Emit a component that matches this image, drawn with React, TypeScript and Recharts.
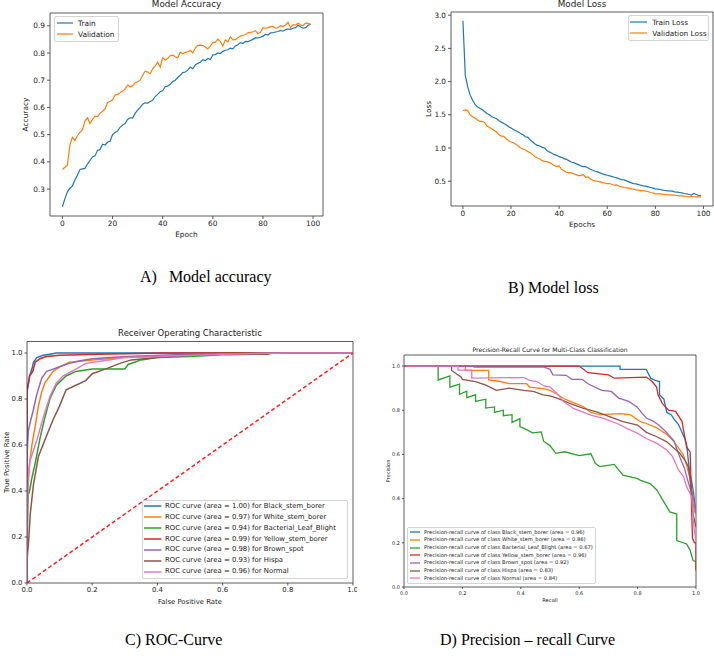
import React from "react";
import { LineChart, Line, XAxis, YAxis, ReferenceLine, Legend } from "recharts";

const MPL = "'DejaVu Sans', Verdana, sans-serif";
const SERIF = "'Liberation Serif', 'Times New Roman', serif";
const INK = "#222";
const SPINE = "#333";

// training history, one value per epoch (0..99)
const trainAcc = [
  0.235, 0.265, 0.29, 0.303, 0.312, 0.333, 0.352, 0.372, 0.374, 0.376,
  0.392, 0.405, 0.418, 0.422, 0.443, 0.445, 0.465, 0.462, 0.472, 0.476,
  0.5, 0.508, 0.513, 0.527, 0.535, 0.541, 0.556, 0.562, 0.561, 0.578,
  0.59, 0.6, 0.612, 0.617, 0.616, 0.622, 0.626, 0.64, 0.648, 0.658,
  0.662, 0.676, 0.678, 0.685, 0.695, 0.7, 0.71, 0.718, 0.728, 0.73,
  0.737, 0.748, 0.742, 0.756, 0.762, 0.766, 0.775, 0.772, 0.78, 0.776,
  0.793, 0.794, 0.8, 0.798, 0.806, 0.81, 0.812, 0.818, 0.815, 0.826,
  0.83, 0.838, 0.835, 0.843, 0.842, 0.846, 0.85, 0.856, 0.855, 0.858,
  0.862, 0.868, 0.866, 0.874, 0.875, 0.877, 0.879, 0.883, 0.88, 0.886,
  0.888, 0.887, 0.891, 0.893, 0.902, 0.896, 0.891, 0.893, 0.902, 0.906,
];
const valAcc = [
  0.372, 0.38, 0.388, 0.462, 0.49, 0.478, 0.497, 0.508, 0.518, 0.55,
  0.562, 0.54, 0.556, 0.568, 0.566, 0.578, 0.586, 0.594, 0.618, 0.622,
  0.628, 0.646, 0.648, 0.654, 0.66, 0.668, 0.682, 0.675, 0.68, 0.69,
  0.694, 0.7, 0.718, 0.733, 0.73, 0.724, 0.742, 0.752, 0.766, 0.748,
  0.783, 0.774, 0.78, 0.79, 0.792, 0.786, 0.782, 0.803, 0.797, 0.802,
  0.804, 0.81, 0.8, 0.818, 0.828, 0.829, 0.828, 0.822, 0.815, 0.826,
  0.838, 0.84, 0.851, 0.842, 0.826, 0.848, 0.841, 0.859, 0.848, 0.849,
  0.856, 0.862, 0.865, 0.868, 0.874, 0.876, 0.878, 0.882, 0.871, 0.876,
  0.893, 0.891, 0.893, 0.897, 0.898, 0.891, 0.893, 0.9, 0.897, 0.903,
  0.913, 0.893, 0.904, 0.902, 0.909, 0.903, 0.9, 0.91, 0.909, 0.905,
];
const trainLoss = [
  2.915, 2.09, 1.92, 1.8, 1.72, 1.66, 1.62, 1.6, 1.58, 1.55,
  1.52, 1.5, 1.47, 1.455, 1.44, 1.41, 1.39, 1.37, 1.35, 1.32,
  1.3, 1.28, 1.26, 1.24, 1.22, 1.2, 1.17, 1.16, 1.12, 1.09,
  1.06, 1.04, 1.03, 1.01, 1.0, 0.96, 0.94, 0.92, 0.9, 0.89,
  0.87, 0.86, 0.84, 0.83, 0.81, 0.79, 0.78, 0.765, 0.75, 0.73,
  0.72, 0.72, 0.7, 0.68, 0.665, 0.65, 0.64, 0.625, 0.61, 0.6,
  0.59, 0.58, 0.57, 0.56, 0.55, 0.535, 0.525, 0.52, 0.505, 0.49,
  0.475, 0.465, 0.46, 0.45, 0.44, 0.43, 0.425, 0.415, 0.405, 0.395,
  0.385, 0.38, 0.375, 0.365, 0.36, 0.355, 0.355, 0.35, 0.34, 0.335,
  0.33, 0.325, 0.315, 0.31, 0.3, 0.29, 0.315, 0.3, 0.285, 0.285,
];
const valLoss = [
  1.565, 1.575, 1.565, 1.5, 1.47, 1.45, 1.425, 1.4, 1.4, 1.385,
  1.33, 1.31, 1.29, 1.265, 1.24, 1.2, 1.18, 1.175, 1.14, 1.11,
  1.09, 1.08, 1.055, 1.03, 1.0, 0.985, 0.97, 0.945, 0.93, 0.9,
  0.87, 0.85, 0.835, 0.81, 0.8, 0.795, 0.78, 0.76, 0.735, 0.725,
  0.73, 0.68, 0.66, 0.635, 0.63, 0.625, 0.615, 0.6, 0.585, 0.585,
  0.6, 0.56, 0.565, 0.535, 0.515, 0.505, 0.5, 0.49, 0.48, 0.47,
  0.465, 0.465, 0.45, 0.44, 0.445, 0.425, 0.415, 0.405, 0.4, 0.395,
  0.385, 0.38, 0.37, 0.365, 0.355, 0.36, 0.35, 0.345, 0.33, 0.325,
  0.31, 0.31, 0.31, 0.305, 0.3, 0.295, 0.295, 0.29, 0.29, 0.285,
  0.28, 0.28, 0.275, 0.27, 0.265, 0.27, 0.27, 0.265, 0.265, 0.26,
];

const epochTicks = [0, 20, 40, 60, 80, 100];
const accTicks = [0.3, 0.4, 0.5, 0.6, 0.7, 0.8, 0.9];
const lossTicks = [0.5, 1.0, 1.5, 2.0, 2.5, 3.0];
const unitTicks = [0, 0.2, 0.4, 0.6, 0.8, 1.0];

// per-class evaluation
const classNames = [
  "Black_stem_borer", "White_stem_borer", "Bacterial_Leaf_Blight",
  "Yellow_stem_borer", "Brown_spot", "Hispa", "Normal",
];
const classColors = ["#1f77b4", "#ff7f0e", "#2ca02c", "#d62728", "#9467bd", "#8c564b", "#e377c2"];
const rocAuc = [1.0, 0.97, 0.94, 0.99, 0.98, 0.93, 0.96];
const prAuc = [0.96, 0.86, 0.67, 0.96, 0.92, 0.83, 0.84];

// ROC points: [fpr, tpr]
const rocBlack = [[0, 0], [0, 0.83], [0.005, 0.87], [0.008, 0.9], [0.015, 0.93], [0.02, 0.96], [0.03, 0.98], [0.05, 0.99], [0.07, 0.995], [0.09, 1], [1, 1]];
const rocWhite = [[0, 0], [0, 0.2], [0.003, 0.42], [0.008, 0.52], [0.015, 0.6], [0.025, 0.68], [0.035, 0.77], [0.045, 0.83], [0.055, 0.87], [0.065, 0.89], [0.08, 0.92], [0.1, 0.94], [0.13, 0.96], [0.2, 0.97], [0.3, 0.98], [0.4, 0.985], [0.6, 0.995], [0.75, 1], [1, 1]];
const rocBacterial = [[0, 0], [0, 0.12], [0.003, 0.38], [0.008, 0.4], [0.014, 0.45], [0.025, 0.52], [0.04, 0.63], [0.055, 0.72], [0.07, 0.8], [0.09, 0.86], [0.12, 0.9], [0.15, 0.92], [0.2, 0.93], [0.3, 0.93], [0.31, 0.95], [0.33, 0.96], [0.35, 0.97], [0.4, 0.98], [0.5, 0.985], [0.57, 0.99], [0.61, 1], [1, 1]];
const rocYellow = [[0, 0], [0, 0.84], [0.008, 0.9], [0.018, 0.92], [0.025, 0.96], [0.04, 0.975], [0.06, 0.985], [0.1, 0.99], [0.22, 0.995], [0.42, 1], [1, 1]];
const rocBrownSpot = [[0, 0], [0, 0.55], [0.004, 0.66], [0.01, 0.7], [0.019, 0.75], [0.03, 0.82], [0.045, 0.89], [0.06, 0.92], [0.08, 0.93], [0.1, 0.94], [0.13, 0.955], [0.16, 0.965], [0.2, 0.975], [0.3, 0.985], [0.5, 0.995], [0.83, 1], [1, 1]];
const rocHispa = [[0, 0], [0, 0.1], [0.005, 0.18], [0.01, 0.3], [0.02, 0.43], [0.035, 0.55], [0.06, 0.64], [0.08, 0.71], [0.1, 0.77], [0.12, 0.84], [0.15, 0.86], [0.18, 0.88], [0.2, 0.91], [0.24, 0.93], [0.285, 0.955], [0.32, 0.97], [0.4, 0.98], [0.5, 0.99], [0.74, 0.995], [0.75, 1], [1, 1]];
const rocNormal = [[0, 0], [0, 0.3], [0.005, 0.48], [0.009, 0.53], [0.03, 0.62], [0.05, 0.72], [0.07, 0.81], [0.09, 0.87], [0.11, 0.9], [0.15, 0.93], [0.18, 0.955], [0.25, 0.97], [0.3, 0.98], [0.4, 0.985], [0.6, 0.995], [0.8, 1], [1, 1]];
const rocChance = [[0, 0], [1, 1]];

// precision-recall points: [recall, precision]
const prBlack = [[0, 1], [0.74, 1], [0.74, 0.985], [0.83, 0.985], [0.835, 0.97], [0.845, 0.945], [0.86, 0.935], [0.875, 0.93], [0.875, 0.87], [0.89, 0.85], [0.895, 0.82], [0.9, 0.79], [0.915, 0.78], [0.925, 0.76], [0.94, 0.735], [0.952, 0.7], [0.962, 0.67], [0.97, 0.62], [0.975, 0.555], [0.98, 0.51], [0.985, 0.48], [0.99, 0.44], [0.995, 0.39], [1, 0.33]];
const prWhite = [[0, 1], [0.21, 1], [0.21, 0.98], [0.29, 0.98], [0.29, 0.937], [0.33, 0.93], [0.36, 0.92], [0.42, 0.92], [0.43, 0.905], [0.48, 0.897], [0.5, 0.89], [0.52, 0.876], [0.547, 0.853], [0.57, 0.84], [0.615, 0.816], [0.64, 0.79], [0.67, 0.78], [0.74, 0.785], [0.775, 0.78], [0.81, 0.748], [0.83, 0.74], [0.866, 0.72], [0.9, 0.69], [0.92, 0.665], [0.94, 0.63], [0.957, 0.597], [0.968, 0.55], [0.978, 0.5], [0.985, 0.45], [0.99, 0.38], [0.995, 0.34], [1, 0.33]];
const prBacterial = [[0, 1], [0.117, 1], [0.117, 0.937], [0.157, 0.955], [0.157, 0.905], [0.19, 0.918], [0.19, 0.872], [0.215, 0.886], [0.215, 0.857], [0.245, 0.87], [0.245, 0.84], [0.28, 0.85], [0.28, 0.81], [0.31, 0.815], [0.31, 0.79], [0.34, 0.8], [0.34, 0.775], [0.37, 0.78], [0.37, 0.745], [0.397, 0.762], [0.397, 0.726], [0.42, 0.712], [0.44, 0.698], [0.47, 0.702], [0.478, 0.66], [0.5, 0.64], [0.52, 0.605], [0.55, 0.612], [0.6, 0.595], [0.64, 0.603], [0.655, 0.56], [0.67, 0.545], [0.72, 0.555], [0.75, 0.506], [0.8, 0.49], [0.81, 0.483], [0.843, 0.468], [0.865, 0.44], [0.888, 0.39], [0.91, 0.34], [0.934, 0.33], [0.934, 0.21], [0.968, 0.195], [0.98, 0.166], [0.99, 0.12], [1, 0.115], [1, 0.075]];
const prYellow = [[0, 1], [0.6, 1], [0.61, 0.99], [0.63, 0.97], [0.7, 0.96], [0.72, 0.945], [0.83, 0.95], [0.85, 0.93], [0.865, 0.905], [0.87, 0.87], [0.885, 0.83], [0.906, 0.8], [0.93, 0.795], [0.952, 0.75], [0.96, 0.69], [0.97, 0.63], [0.98, 0.61], [0.982, 0.52], [0.985, 0.35], [0.988, 0.22], [0.995, 0.2], [1, 0.2], [1, 0.075]];
const prBrownSpot = [[0, 1], [0.24, 1], [0.24, 0.995], [0.48, 0.995], [0.5, 0.985], [0.51, 0.96], [0.555, 0.958], [0.575, 0.94], [0.61, 0.94], [0.63, 0.92], [0.677, 0.89], [0.71, 0.885], [0.735, 0.855], [0.77, 0.84], [0.797, 0.816], [0.815, 0.787], [0.83, 0.765], [0.855, 0.75], [0.878, 0.726], [0.895, 0.705], [0.912, 0.68], [0.925, 0.66], [0.937, 0.614], [0.95, 0.57], [0.96, 0.54], [0.97, 0.49], [0.98, 0.446], [0.99, 0.416], [0.995, 0.37], [1, 0.33]];
const prHispa = [[0, 1], [0.163, 1], [0.163, 0.98], [0.196, 0.95], [0.2, 0.94], [0.245, 0.93], [0.28, 0.914], [0.316, 0.89], [0.36, 0.9], [0.41, 0.89], [0.443, 0.885], [0.477, 0.87], [0.5, 0.865], [0.524, 0.855], [0.57, 0.83], [0.615, 0.808], [0.66, 0.793], [0.706, 0.77], [0.75, 0.748], [0.8, 0.733], [0.83, 0.7], [0.866, 0.68], [0.9, 0.657], [0.92, 0.634], [0.945, 0.604], [0.962, 0.574], [0.974, 0.544], [0.98, 0.483], [0.985, 0.41], [0.99, 0.33], [1, 0.27]];
const prNormal = [[0, 1], [0.185, 1], [0.185, 0.982], [0.232, 0.982], [0.232, 0.945], [0.41, 0.948], [0.43, 0.935], [0.455, 0.93], [0.48, 0.91], [0.5, 0.905], [0.524, 0.876], [0.547, 0.838], [0.58, 0.808], [0.64, 0.778], [0.683, 0.763], [0.73, 0.74], [0.763, 0.718], [0.8, 0.695], [0.83, 0.672], [0.866, 0.65], [0.9, 0.62], [0.92, 0.59], [0.94, 0.53], [0.957, 0.5], [0.968, 0.453], [0.985, 0.41], [0.993, 0.27], [1, 0.21]];

const rocCurves = [rocBlack, rocWhite, rocBacterial, rocYellow, rocBrownSpot, rocHispa, rocNormal];
const prCurves = [prBlack, prWhite, prBacterial, prYellow, prBrownSpot, prHispa, prNormal];

const byEpoch = (vals: number[]) => vals.map((y, i) => ({ x: i, y }));
const toPts = (pairs: number[][]) => pairs.map(([x, y]) => ({ x, y }));
const fmt1 = (v: number) => v.toFixed(1);

const rocLabels = classNames.map((n, i) => `ROC curve (area = ${rocAuc[i].toFixed(2)}) for ${n}`);
const prLabels = classNames.map((n, i) => `Precision-recall curve of class ${n} (area = ${prAuc[i].toFixed(2)})`);

function axisStyle(fs: number, tick = 3) {
  return {
    tick: { fontSize: fs, fill: INK, fontFamily: MPL },
    tickLine: { stroke: SPINE, strokeWidth: 0.8 },
    axisLine: { stroke: SPINE, strokeWidth: 0.8 },
    tickSize: tick,
    tickMargin: 2,
  };
}

// matplotlib-like framed legend, rows in the given order
function BoxLegend(props: any) {
  const { payload, order, fontSize, rowHeight, handle, gap, padX, padY, lineWidth } = props;
  const items = order.map((n: string) => (payload || []).find((p: any) => p.value === n)).filter(Boolean);
  return (
    <div
      style={{
        border: "1px solid #d4d4d4",
        borderRadius: 2,
        background: "rgba(255,255,255,0.85)",
        padding: `${padY}px ${padX}px`,
        fontFamily: MPL,
        fontSize,
        color: INK,
        textAlign: "left",
        boxSizing: "border-box",
      }}
    >
      {items.map((it: any) => (
        <div key={it.value} style={{ display: "flex", alignItems: "center", height: rowHeight, whiteSpace: "nowrap" }}>
          <svg width={handle} height={4} style={{ marginRight: gap, flex: "none" }}>
            <line x1={0} x2={handle} y1={2} y2={2} stroke={it.color} strokeWidth={lineWidth} />
          </svg>
          <span style={{ lineHeight: 1 }}>{it.value}</span>
        </div>
      ))}
    </div>
  );
}

function Text({ x, y, size, font, center, children }: any) {
  const lift = font === SERIF ? 0.6 : 0.586;
  return (
    <div
      style={{
        position: "absolute",
        left: x,
        top: y - size * lift,
        transform: center ? "translateX(-50%)" : undefined,
        fontSize: size,
        fontFamily: font,
        lineHeight: 1.2,
        whiteSpace: "pre",
        color: font === SERIF ? "#000" : INK,
      }}
    >
      {children}
    </div>
  );
}

function Panel({ left, top, children }: any) {
  return <div style={{ position: "absolute", left, top }}>{children}</div>;
}

export default function App() {
  const accDomain: [number, number] = [0.2011, 0.9469];
  const lossDomain: [number, number] = [0.127, 3.048];
  const epochDomain: [number, number] = [-4.95, 103.95];

  return (
    <div style={{ position: "absolute", left: 0, top: 0, width: 714, height: 660, background: "#fff", overflow: "hidden" }}>
      {/* A: accuracy */}
      <Panel left={0} top={0}>
        <LineChart width={357} height={255} margin={{ top: 13, right: 34, bottom: 9, left: 8 }}>
          <XAxis type="number" dataKey="x" domain={epochDomain} ticks={epochTicks} allowDataOverflow height={30}
            {...axisStyle(7.4)}
            label={{ value: "Epoch", position: "insideBottom", offset: 8.8, fontSize: 7.4, fill: INK, fontFamily: MPL }} />
          <YAxis type="number" domain={accDomain} ticks={accTicks} allowDataOverflow width={42} tickFormatter={fmt1}
            {...axisStyle(7.4)}
            label={{ value: "Accuracy", angle: -90, position: "insideLeft", offset: 17, fontSize: 7.4, fill: INK, fontFamily: MPL, style: { textAnchor: "middle" } }} />
          <ReferenceLine y={accDomain[1]} stroke={SPINE} strokeWidth={0.8} />
          <ReferenceLine x={epochDomain[1]} stroke={SPINE} strokeWidth={0.8} />
          <Line data={byEpoch(trainAcc)} dataKey="y" name="Train" stroke="#1f77b4" strokeWidth={1.2} dot={false} activeDot={false} isAnimationActive={false} />
          <Line data={byEpoch(valAcc)} dataKey="y" name="Validation" stroke="#ff7f0e" strokeWidth={1.2} dot={false} activeDot={false} isAnimationActive={false} />
          <Legend layout="vertical" align="center" verticalAlign="middle" wrapperStyle={{ left: 54, top: 16, width: 65 }}
            content={<BoxLegend order={["Train", "Validation"]} fontSize={7.4} rowHeight={11} handle={16.6} gap={4.7} padX={1.7} padY={0.8} lineWidth={1.2} />} />
        </LineChart>
      </Panel>
      <Text x={186.5} y={4.5} size={8.8} font={MPL} center>Model Accuracy</Text>

      {/* B: loss */}
      <Panel left={357} top={0}>
        <LineChart width={357} height={255} margin={{ top: 12, right: 1, bottom: 19, left: 52 }}>
          <XAxis type="number" dataKey="x" domain={epochDomain} ticks={epochTicks} allowDataOverflow height={30}
            {...axisStyle(7.3)}
            label={{ value: "Epochs", position: "insideBottom", offset: 9, fontSize: 7.3, fill: INK, fontFamily: MPL }} />
          <YAxis type="number" domain={lossDomain} ticks={lossTicks} allowDataOverflow width={42} tickFormatter={fmt1}
            {...axisStyle(7.3)}
            label={{ value: "Loss", angle: -90, position: "insideLeft", offset: 19, fontSize: 7.3, fill: INK, fontFamily: MPL, style: { textAnchor: "middle" } }} />
          <ReferenceLine y={lossDomain[1]} stroke={SPINE} strokeWidth={0.8} />
          <ReferenceLine x={epochDomain[1]} stroke={SPINE} strokeWidth={0.8} />
          <Line data={byEpoch(trainLoss)} dataKey="y" name="Train Loss" stroke="#1f77b4" strokeWidth={1.2} dot={false} activeDot={false} isAnimationActive={false} />
          <Line data={byEpoch(valLoss)} dataKey="y" name="Validation Loss" stroke="#ff7f0e" strokeWidth={1.2} dot={false} activeDot={false} isAnimationActive={false} />
          <Legend layout="vertical" align="center" verticalAlign="middle" wrapperStyle={{ left: 271, top: 15, width: 81 }}
            content={<BoxLegend order={["Train Loss", "Validation Loss"]} fontSize={7.3} rowHeight={11} handle={17} gap={5} padX={1.2} padY={0.8} lineWidth={1.2} />} />
        </LineChart>
      </Panel>
      <Text x={582} y={4.5} size={8.8} font={MPL} center>Model Loss</Text>

      <Text x={140} y={277} size={16} font={SERIF}>{"A)   Model accuracy"}</Text>
      <Text x={508} y={288} size={16} font={SERIF}>B) Model loss</Text>

      {/* C: ROC */}
      <Panel left={0} top={320}>
        <LineChart width={357} height={295} margin={{ top: 21.5, right: 4, bottom: 7, left: 3 }}>
          <XAxis type="number" dataKey="x" domain={[0, 1]} ticks={unitTicks} allowDataOverflow height={25} tickFormatter={fmt1}
            {...axisStyle(6.9, 2.5)}
            label={{ value: "False Positive Rate", position: "insideBottom", offset: 4, fontSize: 6.9, fill: INK, fontFamily: MPL }} />
          <YAxis type="number" domain={[0, 1.05]} ticks={unitTicks} allowDataOverflow width={24} tickFormatter={fmt1}
            {...axisStyle(6.9, 2.5)}
            label={{ value: "True Positive Rate", angle: -90, position: "insideLeft", offset: 4, fontSize: 6.9, fill: INK, fontFamily: MPL, style: { textAnchor: "middle" } }} />
          <ReferenceLine y={1.05} stroke={SPINE} strokeWidth={0.8} />
          <ReferenceLine x={1} stroke={SPINE} strokeWidth={0.8} />
          {rocCurves.map((c, i) => (
            <Line key={classNames[i]} data={toPts(c)} dataKey="y" name={rocLabels[i]} stroke={classColors[i]} strokeWidth={1.5}
              dot={false} activeDot={false} isAnimationActive={false} />
          ))}
          <Line data={toPts(rocChance)} dataKey="y" name="chance" legendType="none" stroke="#ff2020" strokeWidth={1.5}
            strokeDasharray="4 2.5" dot={false} activeDot={false} isAnimationActive={false} />
          <Legend layout="vertical" align="center" verticalAlign="middle" wrapperStyle={{ left: 142, top: 179.5, width: 206 }}
            content={<BoxLegend order={rocLabels} fontSize={6.9} rowHeight={10.93} handle={17.4} gap={3.3} padX={1.3} padY={0.3} lineWidth={1.5} />} />
        </LineChart>
      </Panel>
      <Text x={190} y={333} size={8.5} font={MPL} center>Receiver Operating Characteristic</Text>

      {/* D: precision-recall */}
      <Panel left={357} top={320}>
        <LineChart width={357} height={295} margin={{ top: 35, right: 18, bottom: 6, left: 27 }}>
          <XAxis type="number" dataKey="x" domain={[0, 1]} ticks={unitTicks} allowDataOverflow height={22} tickFormatter={fmt1}
            {...axisStyle(5, 2)}
            label={{ value: "Recall", position: "insideBottom", offset: 7, fontSize: 5.2, fill: INK, fontFamily: MPL }} />
          <YAxis type="number" domain={[0, 1.05]} ticks={unitTicks} allowDataOverflow width={20} tickFormatter={fmt1}
            {...axisStyle(5, 2)}
            label={{ value: "Precision", angle: -90, position: "insideLeft", offset: 4, fontSize: 5.2, fill: INK, fontFamily: MPL, style: { textAnchor: "middle" } }} />
          <ReferenceLine y={1.05} stroke={SPINE} strokeWidth={0.8} />
          <ReferenceLine x={1} stroke={SPINE} strokeWidth={0.8} />
          {prCurves.map((c, i) => (
            <Line key={classNames[i]} data={toPts(c)} dataKey="y" name={prLabels[i]} stroke={classColors[i]} strokeWidth={1.3}
              dot={false} activeDot={false} isAnimationActive={false} />
          ))}
          <Legend layout="vertical" align="center" verticalAlign="middle" wrapperStyle={{ left: 50, top: 207, width: 189 }}
            content={<BoxLegend order={prLabels} fontSize={5.2} rowHeight={7.67} handle={10.6} gap={3.7} padX={1.7} padY={0.6} lineWidth={1.3} />} />
        </LineChart>
      </Panel>
      <Text x={550} y={350} size={6.1} font={MPL} center>Precision-Recall Curve for Multi-Class Classification</Text>

      <Text x={125} y={640} size={16} font={SERIF}>C) ROC-Curve</Text>
      <Text x={440} y={640} size={16} font={SERIF}>D) Precision – recall Curve</Text>
    </div>
  );
}
